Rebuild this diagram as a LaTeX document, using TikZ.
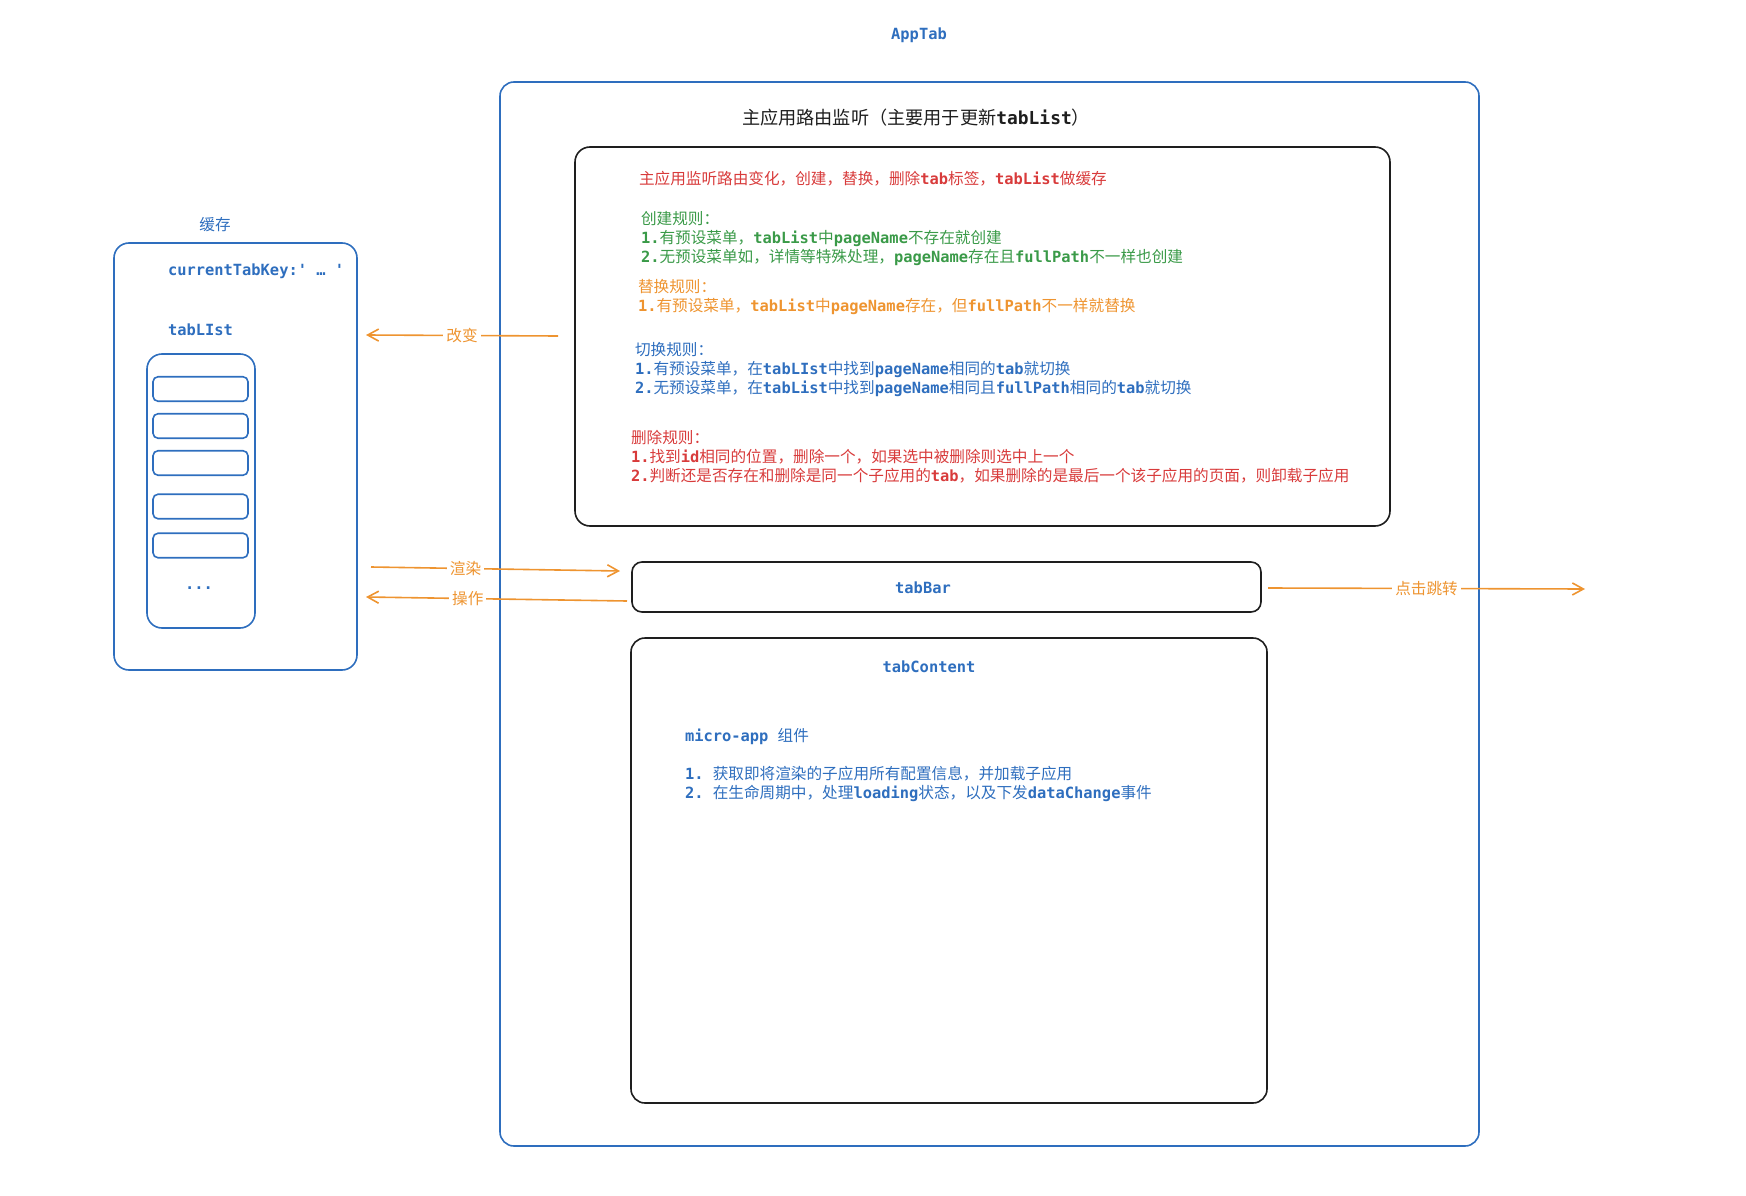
\documentclass[tikz,border=0pt]{standalone}
\usepackage{fontspec}
\setmainfont{DejaVu Sans Mono Bold}
\setmonofont{DejaVu Sans Mono Bold}
\newfontfamily\cjkfont{Noto Sans CJK SC}[Scale=1.015]
\usetikzlibrary{arrows.meta}

% Latin runs in the mono face, CJK runs switch to Noto Sans CJK automatically
\XeTeXinterchartokenstate=1
\newXeTeXintercharclass\cjkclass
\makeatletter
\def\setcjkrange#1#2{\count@=#1\relax
  \loop\XeTeXcharclass\count@=\cjkclass
  \ifnum\count@<#2\relax\advance\count@ by 1\repeat}
\makeatother
\setcjkrange{"3000}{"303F}
\setcjkrange{"4E00}{"9FFF}
\setcjkrange{"FF00}{"FFEF}
\XeTeXinterchartoks 0 \cjkclass = {\cjkfont}
\XeTeXinterchartoks 4095 \cjkclass = {\cjkfont}
\XeTeXinterchartoks \cjkclass 0 = {\ttfamily}
\XeTeXinterchartoks \cjkclass 4095 = {\ttfamily}

\definecolor{exblue}{HTML}{2E6EBE}
\definecolor{exred}{HTML}{D83B3B}
\definecolor{exgreen}{HTML}{3A9A48}
\definecolor{exorange}{HTML}{EE9430}
\definecolor{exblack}{HTML}{1E1E1E}

\begin{document}
\begin{tikzpicture}[x=1pt,y=-1pt,
  txt/.style={inner sep=0pt, outer sep=0pt, align=left, yshift=-2pt,
    font=\ttfamily\fontsize{15.4}{19}\selectfont},
  titletxt/.style={inner sep=0pt, yshift=-1.5pt,
    font=\ttfamily\fontsize{17.9}{21}\selectfont, text=exblack},
  box/.style={draw, line width=1.6pt, inner sep=0pt, outer sep=0pt},
  bluebox/.style={box, draw=exblue},
  blackbox/.style={box, draw=exblack},
  arr/.style={draw=exorange, line width=1.6pt,
    -{Straight Barb[length=11pt,width=12pt,line width=1.6pt]}},
  lbl/.style={fill=white, inner xsep=3pt, inner ysep=1pt, text=exorange,
    font=\ttfamily\fontsize{15.4}{19}\selectfont}
]
\useasboundingbox (0,0) rectangle (1746,1196);

% ---- AppTab container ----
\node[txt, text=exblue] (apptab) at (919,33) {AppTab};
\node[bluebox, rounded corners=14pt, minimum width=979pt, minimum height=1064pt]
  (appbox) at (989.5,614) {};
\node[titletxt] (routetitle) at (916,116) {主应用路由监听（主要用于更新tabList）};

% ---- route rules ----
\node[blackbox, rounded corners=15pt, minimum width=815pt, minimum height=379pt]
  (rules) at (982.5,336.5) {};
\node[txt, text=exred, anchor=west] (intro) at (639,177)
  {主应用监听路由变化，创建，替换，删除tab标签，tabList做缓存};
\node[txt, text=exgreen, anchor=west] (create) at (641,237)
  {创建规则：\\1.有预设菜单，tabList中pageName不存在就创建\\2.无预设菜单如，详情等特殊处理，pageName存在且fullPath不一样也创建};
\node[txt, text=exorange, anchor=west] (replace) at (638,295.5)
  {替换规则：\\1.有预设菜单，tabList中pageName存在，但fullPath不一样就替换};
\node[txt, text=exblue, anchor=west] (switch) at (635,368)
  {切换规则：\\1.有预设菜单，在tabLIst中找到pageName相同的tab就切换\\2.无预设菜单，在tabList中找到pageName相同且fullPath相同的tab就切换};
\node[txt, text=exred, anchor=west] (delete) at (631,455)
  {删除规则：\\1.找到id相同的位置，删除一个，如果选中被删除则选中上一个\\2.判断还是否存在和删除是同一个子应用的tab，如果删除的是最后一个该子应用的页面，则卸载子应用};

% ---- tabBar ----
\node[blackbox, rounded corners=10pt, minimum width=629pt, minimum height=50pt]
  (tabbar) at (946.5,587) {};
\node[txt, text=exblue] (tabbartxt) at (923,586) {tabBar};

% ---- tabContent ----
\node[blackbox, rounded corners=14pt, minimum width=636pt, minimum height=465pt]
  (tabcontent) at (949,870.5) {};
\node[txt, text=exblue] (tabcontenttxt) at (929,665) {tabContent};
\node[txt, text=exblue, anchor=west] (microapp) at (685,735) {micro-app 组件};
\node[txt, text=exblue, anchor=west] (microlist) at (685,782)
  {1. 获取即将渲染的子应用所有配置信息，并加载子应用\\2. 在生命周期中，处理loading状态，以及下发dataChange事件};

% ---- cache ----
\node[txt, text=exblue] (cachetitle) at (215,223) {缓存};
\node[bluebox, rounded corners=15pt, minimum width=243pt, minimum height=427pt]
  (cache) at (235.5,456.5) {};
\node[txt, text=exblue, anchor=west] (curkey) at (168,269) {currentTabKey:' … '};
\node[txt, text=exblue, anchor=west] (tablist) at (168,328) {tabLIst};
\node[bluebox, rounded corners=15pt, minimum width=108pt, minimum height=274pt]
  (listbox) at (201,491) {};
\foreach \i/\y in {1/389, 2/426, 3/463, 4/506.5, 5/545.5}
  \node[bluebox, rounded corners=5pt, minimum width=95pt, minimum height=24.5pt]
    (row\i) at (200.5,\y) {};
\node[txt, text=exblue] (more) at (199,586) {...};

% ---- connectors ----
\coordinate (chgS) at (558,336);
\coordinate (chgE) at (366,335);
\coordinate (renS) at (371,567);
\coordinate (renE) at (620,571);
\coordinate (opS) at (627,601);
\coordinate (opE) at (366,597);
\coordinate (jumpS) at (1268,588);
\coordinate (jumpE) at (1585,589);

\draw[arr] (chgS) -- node[lbl, pos=0.5] (chglbl) {改变} (chgE);
\draw[arr] (renS) -- node[lbl, pos=0.38] (renlbl) {渲染} (renE);
\draw[arr] (opS) -- node[lbl, pos=0.61] (oplbl) {操作} (opE);
\draw[arr] (jumpS) -- node[lbl, pos=0.5] (jumplbl) {点击跳转} (jumpE);
\end{tikzpicture}
\end{document}
